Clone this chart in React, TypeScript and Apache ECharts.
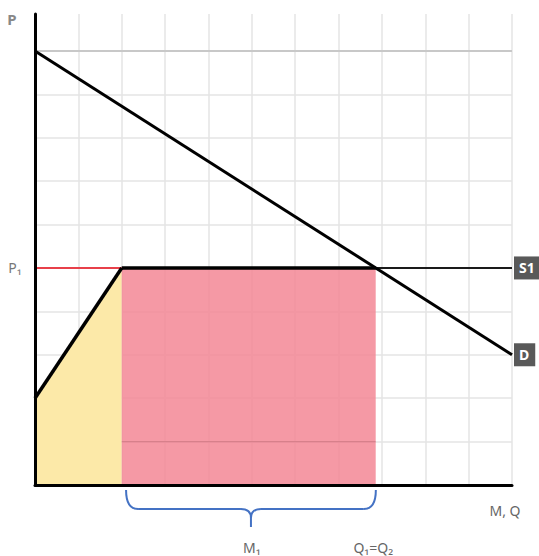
import React, { useEffect, useRef } from "react";
import * as echarts from "echarts";

// ---- data (in chart units) ----
const X_MAX = 11;
const Y_MAX = 10.85;
const GRID_STEP = 1;
const topGuide = [[0, 10], [11, 10]];
const demandLine = [[0, 10], [11, 3]];
const domesticSupply = [[0, 2], [2, 5]];
const worldPriceSegment = [[0, 5], [2, 5]];
const supplyS1Inner = [[2, 5], [7.857, 5]];
const supplyS1Outer = [[7.857, 5], [11, 5]];
const producerArea = [[0, 2], [2, 5]];
const importArea = [[2, 5], [7.857, 5]];
const innerGuide = [[2, 1], [7.857, 1]];
const braceRange = [2.1, 7.86];
const m1LabelX = 5;
const qLabelX = 7.8;
const priceLabelY = 5;
const texts = { p: "P", p1: "P₁", mq: "M, Q", m1: "M₁", q: "Q₁=Q₂", s1: "S1", d: "D" };

const FONT = "'Noto Sans', 'Open Sans', sans-serif";

const endBox = (text: string) => ({
  show: true,
  distance: 2,
  formatter: text,
  backgroundColor: "#595959",
  color: "#ffffff",
  fontWeight: "bold",
  fontSize: 14,
  fontFamily: FONT,
  padding: [5, 6, 4, 5],
});

export default function App() {
  const ref = useRef<HTMLDivElement>(null);

  useEffect(() => {
    document.body.style.margin = "0";
    const chart = echarts.init(ref.current!, null, { renderer: "svg" });
    const gridLine = { color: "#e4e4e4", width: 1.5 };
    chart.setOption({
      animation: false,
      backgroundColor: "#ffffff",
      grid: { left: 35, right: 27, top: 556 - 71 - Y_MAX * 43.41, bottom: 71 },
      xAxis: [
        {
          type: "value", min: 0, max: X_MAX, interval: GRID_STEP, z: 10,
          axisLine: { show: true, onZero: false, lineStyle: { color: "#000", width: 3 } },
          axisTick: { show: false }, axisLabel: { show: false }, splitLine: { show: false },
        },
        {
          type: "value", min: 0, max: X_MAX, interval: GRID_STEP, z: 0, position: "bottom",
          axisLine: { show: false }, axisTick: { show: false }, axisLabel: { show: false },
          splitLine: { show: true, showMinLine: false, showMaxLine: true, lineStyle: gridLine },
        },
      ],
      yAxis: [
        {
          type: "value", min: 0, max: Y_MAX, interval: GRID_STEP, z: 10,
          axisLine: { show: true, onZero: false, lineStyle: { color: "#000", width: 3 } },
          axisTick: { show: false }, axisLabel: { show: false }, splitLine: { show: false },
        },
        {
          type: "value", min: 0, max: Y_MAX, interval: GRID_STEP, z: 0, position: "left",
          axisLine: { show: false }, axisTick: { show: false }, axisLabel: { show: false },
          splitLine: { show: true, showMinLine: false, showMaxLine: false, lineStyle: gridLine },
        },
      ],
      series: [
        {
          type: "line", data: topGuide, symbol: "none", silent: true, z: 1,
          lineStyle: { color: "#c8c8c8", width: 2 },
        },
        {
          type: "line", data: producerArea, symbol: "none", z: 2,
          lineStyle: { width: 0 }, areaStyle: { color: "#fce9a8", opacity: 1 },
        },
        {
          type: "line", data: importArea, symbol: "none", z: 2,
          lineStyle: { width: 0 }, areaStyle: { color: "rgba(243,135,149,0.85)", opacity: 1 },
        },
        {
          type: "line", data: innerGuide, symbol: "none", z: 3,
          lineStyle: { color: "rgba(120,50,60,0.22)", width: 1.2 },
        },
        {
          type: "line", data: worldPriceSegment, symbol: "none", z: 4,
          lineStyle: { color: "#e8404a", width: 2 },
        },
        {
          type: "line", data: supplyS1Outer, symbol: "none", z: 4, clip: false,
          lineStyle: { color: "#1a1a1a", width: 2 },
          endLabel: endBox(texts.s1),
        },
        {
          type: "line", data: supplyS1Inner, symbol: "none", z: 5,
          lineStyle: { color: "#000", width: 3.5 },
        },
        {
          type: "line", data: domesticSupply, symbol: "none", z: 5,
          lineStyle: { color: "#000", width: 3.5 },
        },
        {
          type: "line", data: demandLine, symbol: "none", z: 6, clip: false,
          lineStyle: { color: "#000", width: 3 },
          endLabel: endBox(texts.d),
        },
      ],
    });

    const px = (x: number, y: number) => chart.convertToPixel({ gridIndex: 0 }, [x, y]) as number[];
    const axisY = px(0, 0)[1];
    const L = px(braceRange[0], 0)[0];
    const R = px(braceRange[1], 0)[0];
    const C = (L + R) / 2;
    const yTop = axisY + 5;
    const yMid = axisY + 24;
    const yTip = axisY + 42;
    const blue = { stroke: "#4472c4", lineWidth: 2, fill: null };
    const txt = (text: string, x: number, y: number, size: number, extra: any = {}) => ({
      type: "text", x, y,
      style: { text, fill: "#666", fontSize: size, fontFamily: FONT, align: "center", verticalAlign: "middle", ...extra },
    });
    const p1y = px(0, priceLabelY)[1];
    const topY = px(0, Y_MAX)[1];

    chart.setOption({
      graphic: [
        { type: "bezierCurve", shape: { x1: L, y1: yTop, cpx1: L, cpy1: yMid, x2: L + 12, y2: yMid }, style: blue },
        { type: "line", shape: { x1: L + 12, y1: yMid, x2: C - 10, y2: yMid }, style: blue },
        { type: "bezierCurve", shape: { x1: C - 10, y1: yMid, cpx1: C, cpy1: yMid, x2: C, y2: yMid + 9 }, style: blue },
        { type: "bezierCurve", shape: { x1: C + 10, y1: yMid, cpx1: C, cpy1: yMid, x2: C, y2: yMid + 9 }, style: blue },
        { type: "line", shape: { x1: C, y1: yMid + 9, x2: C, y2: yTip }, style: blue },
        { type: "line", shape: { x1: C + 10, y1: yMid, x2: R - 12, y2: yMid }, style: blue },
        { type: "bezierCurve", shape: { x1: R - 12, y1: yMid, cpx1: R, cpy1: yMid, x2: R, y2: yTop }, style: blue },
        txt(texts.p, 12, topY + 5, 15, { fontWeight: "bold", fill: "#888" }),
        txt(texts.p1, 15, p1y, 14, { fill: "#777" }),
        txt(texts.mq, 505, axisY + 25, 14),
        txt(texts.m1, px(m1LabelX, 0)[0], axisY + 62, 14),
        txt(texts.q, px(qLabelX, 0)[0], axisY + 62, 14),
      ],
    });

    return () => chart.dispose();
  }, []);

  return <div ref={ref} style={{ width: 539, height: 556 }} />;
}
